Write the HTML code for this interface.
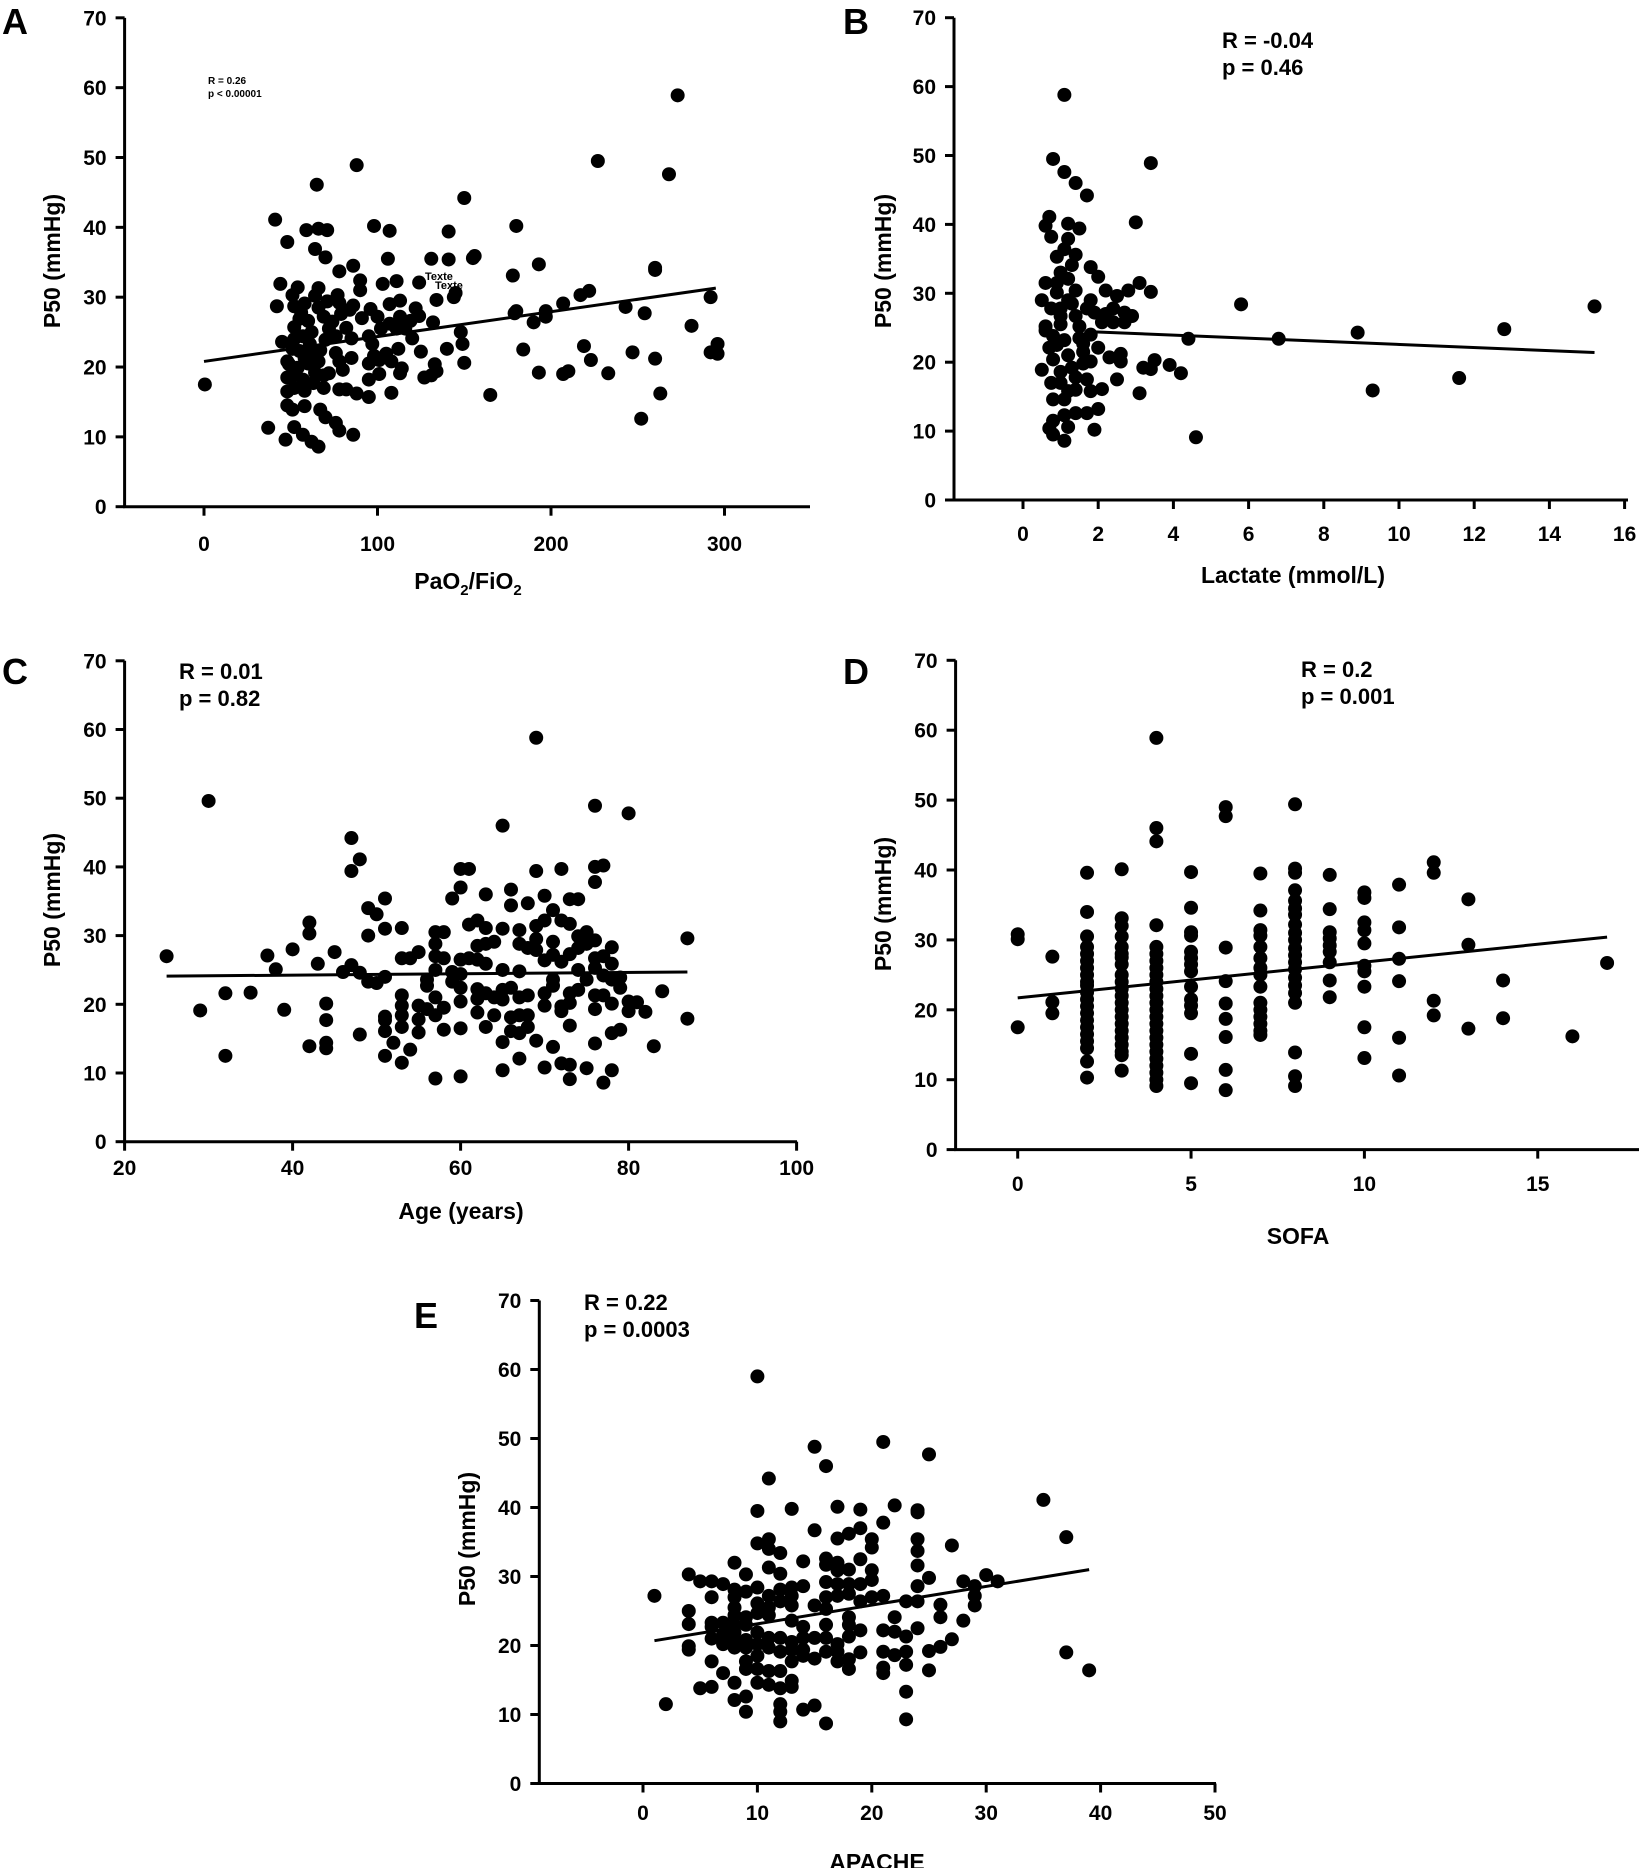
<!DOCTYPE html>
<html><head><meta charset="utf-8">
<style>
html,body{margin:0;padding:0;background:#fff;}
svg{display:block;}
text{font-family:"Liberation Sans",Arial,sans-serif;font-weight:bold;fill:#000;}
</style></head>
<body>
<svg id="fig" xmlns="http://www.w3.org/2000/svg" width="1639" height="1868" viewBox="0 0 1639 1868"></svg>
<script>
// ---------- DATA ----------
const yTicks = [0,10,20,30,40,50,60,70];

const panelAXTicks = [0,100,200,300];
const panelALine = [[0,20.8],[295,31.3]];
const panelAPoints = [
[0.5,17.5],[37,11.3],[41,41.1],[42,28.7],[44,31.9],[45,23.6],[48,37.9],[47,9.6],[52,11.4],
[48,20.8],[48,18.5],[48,16.5],[48,14.5],[65,46.1],[59,39.6],[66,39.8],[71,39.6],[64,36.9],[70,35.7],
[78,33.7],[86,34.5],[88,48.9],[90,32.4],[90,31],[98,40.2],[107,39.5],[106,35.5],[103,31.9],[111,32.3],
[113,29.5],[124,32.1],[122,28.4],[124,27.3],[132,26.4],[125,22.2],[127,18.5],[131,18.8],[134,19.4],
[133,20.4],[134,29.6],[131,35.5],[141,39.4],[141,35.4],[144,30.0],[145,30.6],[140,22.6],[148,25],
[150,44.2],[149,23.3],[150,20.6],[155,35.6],[156,35.9],[165,16],[178,33.1],[180,40.2],[179,27.7],
[180,28],[184,22.5],[190,26.4],[193,34.7],[193,19.2],[197,27.2],[197,28],[207,19],[210,19.4],[207,29.1],
[217,30.3],[222,30.9],[219,23],[223,21],[227,49.5],[233,19.1],[243,28.6],[247,22.1],[252,12.6],[254,27.7],
[260,34.2],[260,33.9],[260,21.2],[263,16.2],[268,47.6],[273,58.9],[281,25.9],[292,30],[292,22.1],[296,21.9],[296,23.3],
[51,30.3],[54,31.4],[66,31.3],[64,30.2],[52,28.7],[58,29.1],[66,28.5],[71,29.4],[77,30.3],[78,29.2],
[52,25.7],[55,26.9],[60,26.6],[69,27.2],[72,25.5],[79,27.6],[84,28.2],[86,28.8],[91,27],
[52,24],[57,24.4],[61,23.3],[70,23.9],[76,24.4],[85,24.1],[95,24.4],[97,23.3],
[51,22.6],[55,22.3],[61,22],[67,22.4],[76,22],
[49,20.4],[54,19.9],[60,20.5],[66,20.8],[72,19.1],[78,20.8],[80,19.6],[85,21.3],
[51,18.8],[57,18.2],[63,17.7],[69,18.8],[52,17],[58,16.6],[69,17],
[78,16.8],[82,16.8],[88,16.2],[95,15.7],[51,13.9],[58,14.4],[67,13.9],
[70,12.8],[76,12],[78,10.9],[57,10.3],[62,9.3],[66,8.6],[86,10.3],
[95,20.5],[98,21.6],[101,21],[105,21.9],[108,20.8],[112,22.6],[114,19.8],[95,18.2],[101,19.0],
[96,28.3],[100,27.2],[102,25.5],[107,29],[107,26.2],[111,25.5],[113,27.2],
[116,25.5],[119,26.6],[120,24.1],[108,16.3],[113,19.1],[56,27.8],[62,25],[58,21.3],[64,19.2],[74,26.5],[82,25.6]
];

const panelBXTicks = [0,2,4,6,8,10,12,14,16];
const panelBLine = [[1.9,24.4],[15.2,21.4]];
const panelBPoints = [
[1.1,58.8],[0.8,49.5],[1.1,47.6],[1.4,46],[1.7,44.2],[3.4,48.9],[3.0,40.3],[0.7,41.1],[0.6,39.8],[1.2,40.1],[1.5,39.4],
[1.2,37.9],[3.1,31.5],[3.4,30.2],[2.2,30.4],[2.5,29.6],[2.8,30.4],[2.9,26.7],[5.8,28.4],[6.8,23.4],[4.4,23.4],
[8.9,24.3],[9.3,15.9],[11.6,17.7],[12.8,24.8],[15.2,28.1],[4.6,9.1],[4.2,18.4],[3.9,19.6],[3.5,20.3],[3.2,19.2],[3.4,19],
[3.1,15.5],[2.5,17.5],[2.6,21.2],[2.6,20.1],[2.3,20.7],[2.1,16.1],[2.0,13.2],[1.9,10.2],[1.8,33.8],[2.0,32.4],
[0.5,29],[0.6,31.5],[0.6,25.2],[0.5,18.9],[0.7,22.1],[0.7,10.4],[0.8,9.5],[1.1,8.6],[1.2,10.6],[0.8,11.5],[1.1,12.3],
[0.8,14.6],[1.1,14.6],[1.4,12.6],[1.7,12.6],[1.4,16],[1.7,17.5],[1.8,20.1],[2,22.1],[1.6,22.7],[1.1,23.2],[0.8,23.8],
[1,25.5],[1.4,26.7],[1.7,27.8],[1.8,29],[1.4,30.4],[1.2,32.1],[1,33],[0.9,35.3],[1.1,36.4],[1.4,35.6],[1.3,34.1],
[0.75,38.2],[0.9,30.1],[1.2,29],[1,27.8],[0.8,20.4],[1,18.6],[1.3,19.2],[1.2,21],[1.6,19.8],[1,17],[1.2,15.8],
[0.75,17],[1.4,17.8],[1.8,15.8],[2.2,27],[2.4,27.8],[2.7,27.2],[2.1,25.8],[2.4,25.8],[2.7,25.8],[1.9,27.2],
[1.5,25.2],[1.8,24],[0.6,24.6],[1,26.7],[0.75,27.8],[1.5,23.5],[1.3,28.5],[0.9,31.5],[1.6,21.5],[0.9,22.5]
];

const panelCXTicks = [20,40,60,80,100];
const panelCLine = [[25,24.1],[87,24.7]];
const panelCPoints = [
[25,27],[29,19.1],[30,49.6],[32,21.6],[32,12.5],[35,21.7],[37,27.1],[38,25.1],[39,19.2],[40,28],[42,31.9],[42,30.3],
[42,13.9],[43,25.9],[44,20.1],[44,17.7],[44,14.4],[44,13.6],[45,27.6],[46,24.7],[47,44.2],[47,39.4],[48,41.1],[47,25.7],
[48,24.6],[48,15.6],[49,34],[49,30],[49,23.3],[50,33.1],[50,23.1],[51,35.4],[51,31],[51,24],[51,18.2],[51,17.7],[51,16.1],
[51,12.5],[52,14.4],[53,31.1],[53,26.7],[53,21.3],[53,19.8],[53,18.4],[53,16.7],[53,11.5],[54,26.7],[54,13.4],[55,27.6],
[55,19.8],[55,17.8],[55,15.9],[56,23.6],[56,22.7],[56,19.3],[57,30.5],[57,28.8],[57,27],[57,25],[57,21],[57,18.4],[57,9.2],
[58,30.5],[58,26.7],[58,19.5],[58,16.3],[59,35.4],[59,24.7],[59,23.3],[60,39.7],[61,39.7],[60,37],[60,26.5],[60,24.4],
[60,22.4],[60,20.4],[60,16.5],[60,9.5],[61,31.6],[61,26.7],[62,32.2],[62,28.5],[62,26.5],[62,22.2],[62,20.8],[62,18.8],
[63,36],[63,31.1],[63,28.8],[63,25.9],[63,21.6],[63,16.7],[64,29.1],[64,21],[64,18.4],[65,46],[65,31],[65,25],[65,22.1],
[65,20.7],[65,14.5],[65,10.4],[66,36.7],[66,34.4],[66,22.4],[66,18.1],[66,16.1],[67,30.8],[67,28.8],[67,24.8],[67,21],
[67,18.4],[67,15.8],[67,12.1],[68,34.7],[68,28.2],[68,21.3],[68,18.4],[68,16.7],[69,58.8],[69,39.4],[69,31.4],[69,29.5],
[69,27.9],[69,14.7],[70,35.8],[70,32.2],[70,26.4],[70,21.6],[70,19.8],[70,10.8],[71,33.7],[71,29.1],[71,27.2],[71,23.6],
[71,22.7],[71,13.8],[72,39.7],[72,32.2],[72,26.2],[72,19.7],[72,19],[72,11.4],[73,35.3],[73,31.7],[73,27.3],[73,21.6],
[73,20.2],[73,16.9],[73,11.2],[73,9.1],[74,35.3],[74,29.9],[74,28.2],[74,25],[74,22.1],[75,30.5],[75,28.8],[75,23.6],
[75,10.7],[76,48.9],[76,40],[76,37.8],[76,29.3],[76,26.7],[76,25.3],[76,21.3],[76,19.3],[76,14.3],[77,40.2],[77,27],
[77,24.2],[77,21.3],[77,8.6],[78,28.3],[78,25.9],[78,23.6],[78,20.1],[78,15.8],[78,10.4],[79,23.9],[79,22.4],[79,16.3],
[80,47.8],[80,20.4],[80,19],[81,20.3],[82,18.9],[83,13.9],[84,21.9],[87,29.6],[87,17.9]
];

const panelDXTicks = [0,5,10,15];
const panelDLine = [[0,21.7],[17,30.4]];
const panelDPoints = [
[0,30.8],[0,30.1],[0,17.5],[1,27.6],[1,21.1],[1,19.5],
[2,39.6],[2,34],[2,30.5],[2,29],[2,28],[2,27],[2,26],[2,25],[2,24],[2,23.5],[2,22.5],[2,21.5],[2,20.5],[2,19.5],[2,18.5],[2,17.5],[2,16.5],[2,15.5],[2,14.5],[2,12.6],[2,10.3],
[3,40.1],[3,33.1],[3,32],[3,30.5],[3,29],[3,28],[3,27.5],[3,26.5],[3,25],[3,24],[3,23],[3,22],[3,21],[3,20],[3,19],[3,18],[3,17],[3,16],[3,15],[3,14],[3,13.5],[3,11.3],
[4,58.9],[4,46],[4,44.1],[4,32.1],[4,29],[4,28],[4,27],[4,26],[4,25],[4,24],[4,23],[4,22],[4,21],[4,20],[4,19],[4,18],[4,17],[4,16],[4,15],[4,14],[4,13],[4,12],[4,11],[4,10],[4,9.1],
[5,39.7],[5,34.6],[5,31.1],[5,30.6],[5,28.3],[5,27.4],[5,26.5],[5,25.5],[5,23.3],[5,21.5],[5,20.6],[5,19.5],[5,13.7],[5,9.5],
[6,49],[6,47.7],[6,28.9],[6,24.1],[6,20.9],[6,18.7],[6,16.1],[6,11.4],[6,8.5],
[7,39.5],[7,34.2],[7,31.4],[7,30.6],[7,29],[7,27.4],[7,26],[7,25],[7,23.3],[7,21],[7,20],[7,19],[7,18],[7,17],[7,16.4],
[8,49.4],[8,40.2],[8,39.6],[8,37.1],[8,35.6],[8,34.5],[8,33.6],[8,32.2],[8,31],[8,30],[8,28.8],[8,27.8],[8,26.8],[8,25.8],[8,24.6],[8,23.5],[8,22.4],[8,21],[8,13.9],[8,10.5],[8,9.1],
[9,39.3],[9,34.4],[9,31.1],[9,30.2],[9,29.2],[9,28.3],[9,26.8],[9,24.2],[9,21.8],
[10,36.8],[10,36],[10,32.5],[10,31.4],[10,29.5],[10,26.3],[10,25.5],[10,23.3],[10,17.5],[10,13.1],
[11,37.9],[11,31.8],[11,27.3],[11,24.1],[11,16],[11,10.6],
[12,41.1],[12,39.6],[12,21.3],[12,19.2],
[13,35.8],[13,29.3],[13,17.3],[14,24.2],[14,18.8],[16,16.2],[17,26.7]
];

const panelEXTicks = [0,10,20,30,40,50];
const panelELine = [[1,20.7],[39,31.0]];
const panelEPoints = [
[1,27.2],[2,11.5],[4,30.3],[4,25],[4,23.1],[4,19.9],[4,19.4],[5,29.3],[5,13.8],[6,29.3],[6,27],[6,23.3],[6,22.7],[6,21],
[6,17.7],[6,14],[7,28.9],[7,23.3],[7,21.6],[7,20.2],[7,16],[8,32],[8,28.1],[8,27],[8,25.5],[8,24.4],[8,23],[8,21.9],[8,20.8],
[8,19.7],[8,14.6],[8,12.1],[9,30.3],[9,27.8],[9,24.1],[9,23],[9,20.8],[9,19.7],[9,17.7],[9,16.6],[9,12.6],[9,10.4],
[10,59],[10,39.5],[10,34.8],[10,28.4],[10,26.1],[10,24.7],[10,21.9],[10,20.2],[10,18.5],[10,16.6],[10,14.6],
[11,44.2],[11,35.4],[11,34],[11,31.3],[11,27.2],[11,25.5],[11,24.4],[11,21.1],[11,19.7],[11,16.3],[11,14.3],
[12,33.4],[12,30.4],[12,28.1],[12,26.4],[12,21.1],[12,19.1],[12,16.3],[12,13.8],[12,11.5],[12,10.4],[12,9],
[13,39.8],[13,28.4],[13,27.2],[13,25.8],[13,23.6],[13,20.5],[13,19.4],[13,17.7],[13,14.9],[13,14],
[14,32.2],[14,28.6],[14,22.7],[14,21.1],[14,19.4],[14,18.5],[14,10.7],[15,48.8],[15,36.7],[15,25.8],[15,21.1],[15,18.1],[15,11.3],
[16,46],[16,32.6],[16,31.7],[16,29.2],[16,27],[16,25.3],[16,23],[16,21.1],[16,19.1],[16,8.7],
[17,40.1],[17,35.5],[17,32],[17,30.9],[17,28.9],[17,27.2],[17,20.2],[17,19.1],[17,17.7],
[18,36.2],[18,31],[18,28.9],[18,27.5],[18,24.1],[18,23],[18,21.3],[18,18],[18,16.6],
[19,39.7],[19,37],[19,32.5],[19,28.9],[19,26.4],[19,22.2],[19,19],[20,35.4],[20,34.2],[20,30.9],[20,29.5],[20,27],
[21,37.8],[21,49.5],[21,27.2],[21,22.2],[21,19.1],[21,16.8],[21,16],[22,40.3],[22,24.1],[22,22],[22,18.6],
[23,26.4],[23,21.3],[23,19.1],[23,17.2],[23,13.3],[23,9.3],[24,39.6],[24,39.3],[24,35.4],[24,33.7],[24,31.6],[24,28.6],
[24,26.4],[24,22.5],[25,47.7],[25,29.8],[25,19.2],[25,16.4],[26,25.9],[26,24.1],[26,19.8],[27,34.5],[27,20.9],
[28,29.3],[28,23.6],[29,28.6],[29,27.2],[29,25.8],[30,30.2],[31,29.3],[35,41.1],[37,35.7],[37,19],[39,16.4]
];

// ---------- DRAWING ----------
const NS = "http://www.w3.org/2000/svg";
const svg = document.getElementById('fig');
function mk(tag, attrs, parent){
  const e = document.createElementNS(NS, tag);
  for (const k in attrs) e.setAttribute(k, attrs[k]);
  (parent||svg).appendChild(e);
  return e;
}

function drawPanel(cfg){
  const g = mk('g', {});
  
  
  const sx = v => cfg.x0px + (v - cfg.xmin) * cfg.xpx;
  const sy = v => cfg.y0px - v * cfg.ypx;

  const yAxis = mk('line', {x1:cfg.axX, y1:sy(70), x2:cfg.axX, y2:cfg.y0px, stroke:'#000','stroke-width':3}, g);
  
  
  const xAxis = mk('line', {x1:cfg.axX-1.5, y1:cfg.y0px, x2:cfg.axEnd, y2:cfg.y0px, stroke:'#000','stroke-width':3}, g);
  
  

  yTicks.forEach(t => {
    const y = sy(t);
    mk('line', {x1:cfg.axX-9, y1:y, x2:cfg.axX, y2:y, stroke:'#000','stroke-width':3}, g);
    const tx = mk('text', {x:cfg.axX-18, y:y+7.5, 'font-size':21, 'text-anchor':'end'}, g);
    tx.textContent = t;
    
    
  });
  cfg.xTicks.forEach(t => {
    const x = sx(t);
    mk('line', {x1:x, y1:cfg.y0px, x2:x, y2:cfg.y0px+9, stroke:'#000','stroke-width':3}, g);
    const tx = mk('text', {x:x, y:cfg.xLabY, 'font-size':21, 'text-anchor':'middle'}, g);
    tx.textContent = t;
    
    
  });

  cfg.points.forEach(p => {
    const c = mk('circle', {cx:sx(p[0]), cy:sy(p[1]), r:7, fill:'#000'}, g);
    
    
  });

  const ln = mk('line', {x1:sx(cfg.line[0][0]), y1:sy(cfg.line[0][1]), x2:sx(cfg.line[1][0]), y2:sy(cfg.line[1][1]), stroke:'#000','stroke-width':3}, g);
  
  

  const yt = mk('text', {x:0, y:0, 'font-size':23, 'text-anchor':'middle', transform:'translate('+cfg.yTitleX+','+cfg.yTitleY+') rotate(-90)'}, g);
  yt.textContent = 'P50 (mmHg)';
  
  

  const lt = mk('text', {x:cfg.letterX, y:cfg.letterY, 'font-size':36}, g);
  lt.textContent = cfg.id;
  
  

  const r1 = mk('text', {x:cfg.statX, y:cfg.statY1, 'font-size':cfg.statSize}, g);
  r1.textContent = cfg.stat1;
  
  
  const r2 = mk('text', {x:cfg.statX, y:cfg.statY2, 'font-size':cfg.statSize}, g);
  r2.textContent = cfg.stat2;
  
  
  return {g, sx, sy};
}

// Panel A
const pa = drawPanel({id:'A', x0px:204, xmin:0, xpx:1.735, y0px:506.7, ypx:6.984, axX:124.6, axEnd:810,
  xTicks:panelAXTicks, xLabY:551, points:panelAPoints, line:panelALine, yTitleX:60, yTitleY:261,
  letterX:2, letterY:34, statX:208, statY1:84, statY2:97, statSize:10, stat1:'R = 0.26', stat2:'p < 0.00001'});
const xtA = mk('text', {x:468, y:589, 'font-size':23, 'text-anchor':'middle'}, pa.g);
xtA.innerHTML = 'PaO<tspan font-size="15" dy="6">2</tspan><tspan dy="-6">/FiO</tspan><tspan font-size="15" dy="6">2</tspan>';


const tx1 = mk('text', {x:425, y:280, 'font-size':11, 'font-weight':'normal'}, pa.g);
tx1.textContent = 'Texte';


const tx2 = mk('text', {x:435, y:289, 'font-size':11, 'font-weight':'normal'}, pa.g);
tx2.textContent = 'Texte';



// Panel B
const pb = drawPanel({id:'B', x0px:1023, xmin:0, xpx:37.6, y0px:500, ypx:6.89, axX:954, axEnd:1628,
  xTicks:panelBXTicks, xLabY:541, points:panelBPoints, line:panelBLine, yTitleX:891, yTitleY:261,
  letterX:843, letterY:34, statX:1222, statY1:48, statY2:75, statSize:22, stat1:'R = -0.04', stat2:'p = 0.46'});
const xtB = mk('text', {x:1293, y:583, 'font-size':23, 'text-anchor':'middle'}, pb.g);
xtB.textContent = 'Lactate (mmol/L)';



// Panel C
const pc = drawPanel({id:'C', x0px:124.6, xmin:20, xpx:8.4, y0px:1141.7, ypx:6.87, axX:124.6, axEnd:797,
  xTicks:panelCXTicks, xLabY:1175, points:panelCPoints, line:panelCLine, yTitleX:60, yTitleY:900,
  letterX:2, letterY:684, statX:179, statY1:679, statY2:706, statSize:22, stat1:'R = 0.01', stat2:'p = 0.82'});
const xtC = mk('text', {x:461, y:1219, 'font-size':23, 'text-anchor':'middle'}, pc.g);
xtC.textContent = 'Age (years)';



// Panel D
const pd = drawPanel({id:'D', x0px:1017.7, xmin:0, xpx:34.67, y0px:1149.6, ypx:6.99, axX:955.6, axEnd:1639,
  xTicks:panelDXTicks, xLabY:1191, points:panelDPoints, line:panelDLine, yTitleX:891, yTitleY:904,
  letterX:843, letterY:684, statX:1301, statY1:677, statY2:704, statSize:22, stat1:'R = 0.2', stat2:'p = 0.001'});
const xtD = mk('text', {x:1298, y:1244, 'font-size':23, 'text-anchor':'middle'}, pd.g);
xtD.textContent = 'SOFA';



// Panel E
const pe = drawPanel({id:'E', x0px:643, xmin:0, xpx:11.44, y0px:1783.5, ypx:6.9, axX:539.3, axEnd:1216,
  xTicks:panelEXTicks, xLabY:1820, points:panelEPoints, line:panelELine, yTitleX:475, yTitleY:1539,
  letterX:414, letterY:1328, statX:584, statY1:1310, statY2:1337, statSize:22, stat1:'R = 0.22', stat2:'p = 0.0003'});
const xtE = mk('text', {x:877, y:1870, 'font-size':23, 'text-anchor':'middle'}, pe.g);
xtE.textContent = 'APACHE';


</script>
</body></html>
